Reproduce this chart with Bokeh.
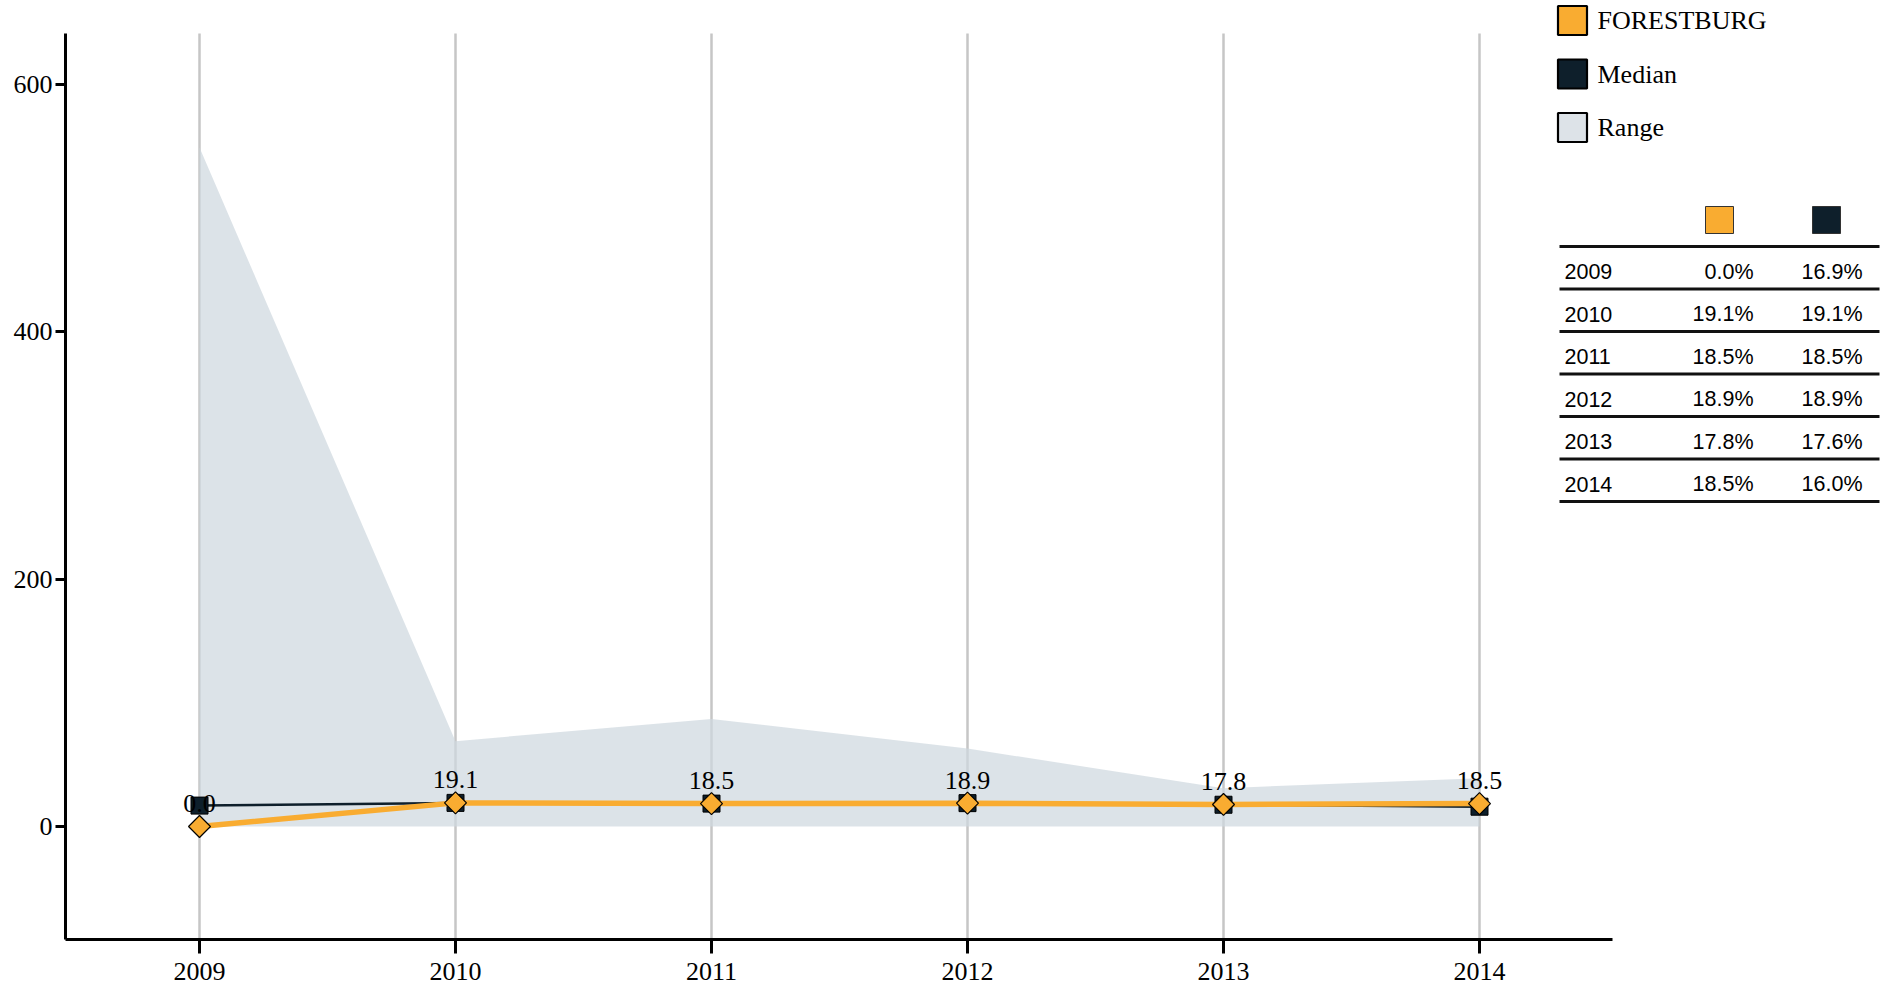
import math
from bokeh.plotting import figure
from bokeh.models import Range1d, FixedTicker
from bokeh.embed import file_html
from bokeh.resources import INLINE
from bokeh.core.properties import value

# ---------------- data ----------------
years = [2009, 2010, 2011, 2012, 2013, 2014]
forestburg = [0.0, 19.1, 18.5, 18.9, 17.8, 18.5]
median = [16.9, 19.1, 18.5, 18.9, 17.6, 16.0]
range_low = [0, 0, 0, 0, 0, 0]
range_high = [549, 69, 87, 63, 31, 39]
y_ticks = [0, 200, 400, 600]
legend_labels = ["FORESTBURG", "Median", "Range"]
table_years = [str(y) for y in years]
table_forestburg = [f"{v:.1f}%" for v in forestburg]
table_median = [f"{v:.1f}%" for v in median]
data_labels = [f"{v:.1f}" for v in forestburg]

# ---------------- style ----------------
ORANGE = "#F9AC31"
DARK = "#0E1F2B"
RANGE_FILL = "#CFD8DF"
GRID = "#C6C6C6"
SERIF = "Liberation Serif"
SANS = "Liberation Sans"

W, H = 1886, 985
FRAME_L, FRAME_R, FRAME_T, FRAME_B = 65, 1886, 0, 939  # page pixels
X0_PX = 199.0            # page x of first year
X_PX_PER = 256.0         # px per year
Y0_PX = 826.0            # page y of value 0
Y_PX_PER = 742.0 / 600   # px per unit
AXIS_TOP_PX = 33.0
AXIS_RIGHT_PX = 1612.0

x_start = years[0] - (X0_PX - FRAME_L) / X_PX_PER
x_end = years[0] + (FRAME_R - X0_PX) / X_PX_PER
x_axis_end = years[0] + (AXIS_RIGHT_PX - X0_PX) / X_PX_PER
y_start = -(FRAME_B - Y0_PX) / Y_PX_PER
y_end = (Y0_PX - FRAME_T) / Y_PX_PER
y_axis_top = (Y0_PX - AXIS_TOP_PX) / Y_PX_PER

p = figure(width=W, height=H, output_backend="svg", toolbar_location=None,
           x_range=Range1d(x_start, x_end), y_range=Range1d(y_start, y_end),
           min_border_left=FRAME_L, min_border_right=W - FRAME_R,
           min_border_top=FRAME_T, min_border_bottom=H - FRAME_B)
p.outline_line_color = None
p.background_fill_color = "white"
p.border_fill_color = "white"
p.extra_x_ranges = {"px": Range1d(FRAME_L, FRAME_R)}
p.extra_y_ranges = {"py": Range1d(FRAME_B, FRAME_T)}

# axes
xa = p.xaxis[0]
xa.ticker = FixedTicker(ticks=years)
xa.bounds = (x_start, x_axis_end)
ya = p.yaxis[0]
ya.ticker = FixedTicker(ticks=y_ticks)
ya.bounds = (y_start, y_axis_top)
for ax in (xa, ya):
    ax.axis_line_width = 3
    ax.axis_line_color = "black"
    ax.major_tick_line_width = 3
    ax.major_tick_line_color = "black"
    ax.major_tick_in = 0
    ax.minor_tick_line_color = None
    ax.major_label_text_font = SERIF
    ax.major_label_text_font_size = "26px"
    ax.major_label_text_color = "black"
xa.major_tick_out = 14
xa.major_label_standoff = 9
xa.major_label_text_line_height = 0.8
ya.major_tick_out = 10
ya.major_label_standoff = 3

# grid
p.ygrid.visible = False
p.xgrid.ticker = FixedTicker(ticks=years)
p.xgrid.grid_line_color = GRID
p.xgrid.grid_line_width = 2.5
try:
    p.xgrid.cross_bounds = (y_start, y_axis_top)
except Exception:
    p.xgrid.visible = False
    p.segment(x0=years, y0=[y_start] * len(years), x1=years, y1=[y_axis_top] * len(years),
              line_color=GRID, line_width=2.5, level="underlay")

# range area
p.varea(x=years, y1=range_low, y2=range_high, fill_color=RANGE_FILL, fill_alpha=0.72)

# median
p.line(years, median, line_color=DARK, line_width=2.5)
p.scatter(years, median, marker="square", size=17, fill_color=DARK,
          line_color="black", line_width=1)

# forestburg
p.line(years, forestburg, line_color=ORANGE, line_width=5.5)
p.scatter(years, forestburg, marker="square", angle=math.pi / 4, size=15.5,
          fill_color=ORANGE, line_color="black", line_width=1.2)

p.text(x=years, y=forestburg, text=data_labels, text_align="center",
       text_baseline="middle", y_offset=-23, text_font=value(SERIF),
       text_font_size="26px", text_color="black")

# ---------------- legend (page-pixel coordinates) ----------------
leg_colors = [ORANGE, DARK, "#DDE3E8"]
leg_y = [20 + 53.5 * i for i in range(len(legend_labels))]
p.rect(x=[1572] * 3, y=leg_y, width=29, height=29, fill_color=leg_colors,
       line_color="black", line_width=2.2, x_range_name="px", y_range_name="py")
p.text(x=[1597] * 3, y=leg_y, text=legend_labels, text_baseline="middle",
       text_align="left", text_font=value(SERIF), text_font_size="26px",
       text_color="black", x_range_name="px", y_range_name="py")

# ---------------- table ----------------
p.rect(x=[1719, 1826], y=[219.5, 219.5], width=28, height=27,
       fill_color=[ORANGE, DARK], line_color="#333333", line_width=1,
       x_range_name="px", y_range_name="py")
n = len(years)
line_y = [246 + 42.5 * i for i in range(n + 1)]
p.segment(x0=[1559] * (n + 1), y0=line_y, x1=[1879] * (n + 1), y1=line_y,
          line_color="#111111", line_width=3, x_range_name="px", y_range_name="py")
row_y = [271 + 42.5 * i for i in range(n)]
common = dict(text_baseline="middle", text_font=value(SANS), text_font_size="21.5px",
              text_color="black", x_range_name="px", y_range_name="py")
p.text(x=[1564] * n, y=row_y, text=table_years, text_align="left", **common)
p.text(x=[1753] * n, y=row_y, text=table_forestburg, text_align="right", **common)
p.text(x=[1862] * n, y=row_y, text=table_median, text_align="right", **common)

open("out.html", "w").write(file_html(p, INLINE))
